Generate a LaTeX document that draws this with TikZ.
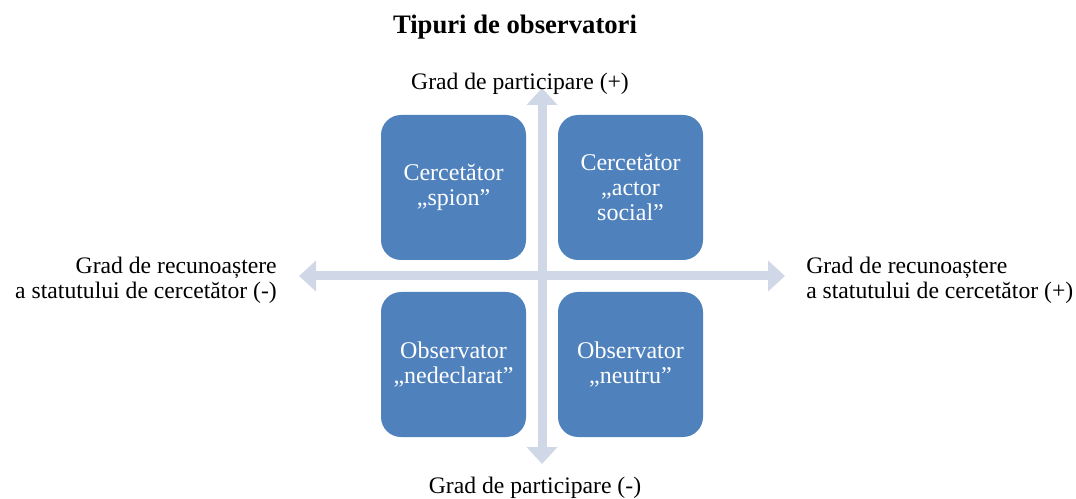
\documentclass[tikz,border=0pt]{standalone}
\usepackage{fontspec}
\setmainfont{Liberation Serif}
\usetikzlibrary{arrows.meta}
\definecolor{boxblue}{RGB}{79,129,189}
\definecolor{axisgray}{RGB}{208,216,232}
\tikzset{
  quad/.style={draw=none, fill=boxblue, text=white, rounded corners=15pt,
    minimum width=108.75pt, minimum height=108.75pt, align=center,
    font=\fontsize{18}{19}\selectfont},
  axis/.style={draw=axisgray, line width=6.75pt,
    {Triangle[length=12.75pt,width=22.5pt]}-{Triangle[length=12.75pt,width=22.5pt]}},
  lbl/.style={inner sep=0pt}
}
\begin{document}
\begin{tikzpicture}[x=0.75pt,y=-0.75pt,font=\fontsize{17.75}{19}\selectfont]
        \useasboundingbox (0,0) rectangle (1076,499);

        % Título
        \node[lbl, font=\bfseries\fontsize{20}{24}\selectfont] (titlu) at (515,27) {Tipuri de observatori};

        % Ejes
        \coordinate (sus) at (542,88);
        \coordinate (jos) at (542,464);
        \coordinate (stanga) at (299,276);
        \coordinate (dreapta) at (785,276);
        \draw[axis] (stanga) -- (dreapta);
        \draw[axis] (jos) -- (sus);

        % Cuadrantes
        \node[quad] (spion) at (453.5,187.5) {Cercetător\\„spion”};
        \node[quad] (actor) at (630.5,187.5) {Cercetător\\„actor\\social”};
        \node[quad] (nedeclarat) at (453.5,364.5) {Observator\\„nedeclarat”};
        \node[quad] (neutru) at (630.5,364.5) {Observator\\„neutru”};

        % Etichetas de los ejes
        \node[lbl] (partplus) at (520,84) {Grad de participare (+)};
        \node[lbl] (partminus) at (535,488) {Grad de participare (-)};
        \node[lbl, align=right, anchor=east] (recminus) at (277,280) {Grad de recunoaștere\\a statutului de cercetător (-)};
        \node[lbl, align=left, anchor=west] (recplus) at (806,280) {Grad de recunoaștere\\a statutului de cercetător (+)};
    \end{tikzpicture}
\end{document}
